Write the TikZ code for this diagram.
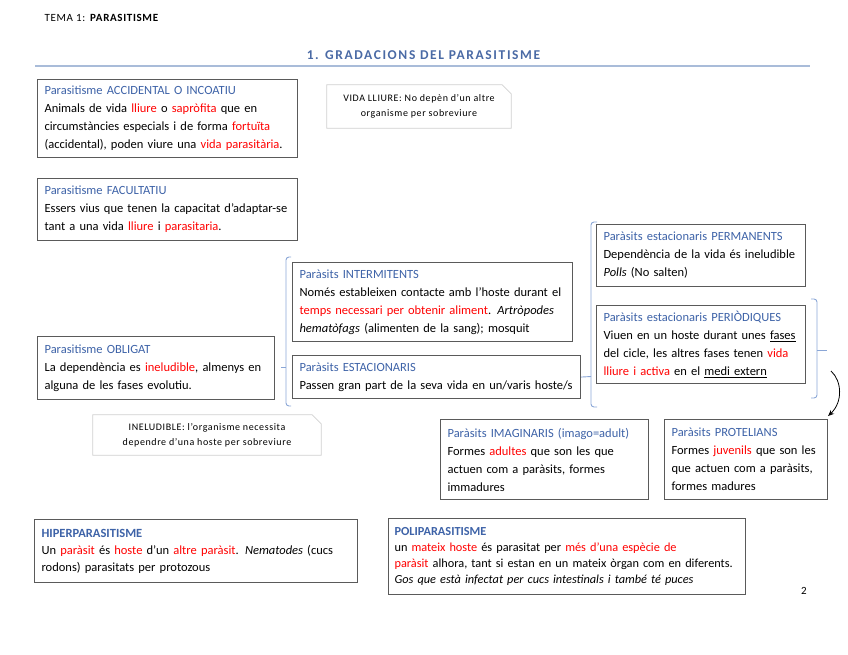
\documentclass[tikz,border=0pt]{standalone}
\usepackage{fontspec}
\setmainfont{Carlito}
\newfontfamily\spacedfont[LetterSpace=6]{Carlito}
\newfontfamily\headfont[LetterSpace=12]{Carlito}
\usepackage{xcolor}
\definecolor{titleblue}{HTML}{3E63A8}
\definecolor{headblue}{HTML}{4A6AA5}
\definecolor{rulegray}{HTML}{A9BCD9}
\definecolor{boxgray}{HTML}{5A5A5A}
\definecolor{calloutgray}{HTML}{D0D0D0}
\definecolor{bracketblue}{HTML}{8AA6D6}
\definecolor{red1}{HTML}{FF0000}
\usepackage{tikz}
\usetikzlibrary{arrows.meta, positioning, calc}

\newcommand{\rd}[1]{\textcolor{red1}{#1}}
\newcommand{\bt}[1]{\textcolor{titleblue}{#1}}
\newcommand{\foldframe}[1]{%
  \draw[fold] (#1.south west) -- (#1.north west) -- ([xshift=-9pt]#1.north east)
              -- ([yshift=-9pt]#1.north east) -- (#1.south east) -- cycle;}

\begin{document}
\begin{tikzpicture}[
  x=1pt, y=-1pt,
  box/.style     = {draw=boxgray, line width=1.1pt, fill=white, anchor=north west,
                    align=left, inner xsep=7pt, inner ysep=0pt,
                    font=\fontsize{12.5}{18}\selectfont},
  callout/.style = {align=center, inner sep=0pt,
                    font=\spacedfont\fontsize{10}{15}\selectfont},
  fold/.style    = {draw=calloutgray, line width=0.8pt},
  brk/.style     = {draw=bracketblue, line width=0.9pt, rounded corners=3pt},
  arr/.style     = {-{Stealth[length=6pt, width=5pt]}, line width=0.8pt}
]
\useasboundingbox (0,0) rectangle (848,654);

% ── HEADER ──────────────────────────────────────────────
\node[anchor=west, font=\spacedfont\fontsize{11}{13}\selectfont] (tema) at (41,18)
     {TEMA 1: \textbf{PARASITISME}};
\node[font=\headfont\bfseries\fontsize{13.5}{15}\selectfont, text=headblue] (titol) at (423.5,55)
     {1. GRADACIONS DEL PARASITISME};
\draw[rulegray, line width=1.5pt] (35,66) -- (810,66);

% ── LEFT COLUMN ─────────────────────────────────────────
\node[box, text width=246pt, minimum height=78pt] (acc) at (37,79)
     {\bt{Parasitisme ACCIDENTAL O INCOATIU}\\
      Animals de vida \rd{lliure} o \rd{sapròfita} que en\\
      circumstàncies especials i de forma \rd{fortuïta}\\
      (accidental), poden viure una \rd{vida parasitària}.};
\node[box, text width=246pt, minimum height=62pt] (fac) at (37,178)
     {\bt{Parasitisme FACULTATIU}\\
      Essers vius que tenen la capacitat d’adaptar-se\\
      tant a una vida \rd{lliure} i \rd{parasitaria}.};
\node[box, text width=223pt, minimum height=63pt] (obl) at (37,336)
     {\bt{Parasitisme OBLIGAT}\\
      La dependència es \rd{ineludible}, almenys en\\
      alguna de les fases evolutiu.};

% ── CALLOUTS ────────────────────────────────────────────
\node[callout, minimum width=184pt, minimum height=43pt] (vidalliure) at (419,106.5)
     {VIDA LLIURE: No depèn d’un altre\\ organisme per sobreviure};
\foldframe{vidalliure}
\node[callout, minimum width=228pt, minimum height=40pt] (inel) at (207,435)
     {INELUDIBLE: l’organisme necessita\\ dependre d’una hoste per sobreviure};
\foldframe{inel}

% ── INTERMITENTS / ESTACIONARIS ─────────────────────────
\node[box, text width=266pt, minimum height=79pt] (int) at (292,262)
     {\bt{Paràsits INTERMITENTS}\\
      Només estableixen contacte amb l’hoste durant el\\
      \rd{temps necessari per obtenir aliment}. \textit{Artròpodes}\\
      \textit{hematòfags} (alimenten de la sang); mosquit};
\node[box, text width=274pt, minimum height=43pt] (est) at (292,355)
     {\bt{Paràsits ESTACIONARIS}\\
      Passen gran part de la seva vida en un/varis hoste/s};

% ── PERMANENTS / PERIÒDIQUES ────────────────────────────
\node[box, text width=195pt, minimum height=62pt] (perm) at (596,224)
     {\bt{Paràsits estacionaris PERMANENTS}\\
      Dependència de la vida és ineludible\\
      \textit{Polls} (No salten)};
\node[box, text width=195pt, minimum height=78pt] (per) at (596,305)
     {\bt{Paràsits estacionaris PERIÒDIQUES}\\
      Viuen en un hoste durant unes \underline{fases}\\
      del cicle, les altres fases tenen \rd{vida}\\
      \rd{lliure i activa} en el \underline{medi extern}};

% ── IMAGINARIS / PROTELIANS ─────────────────────────────
\node[box, text width=194pt, minimum height=80pt] (ima) at (440,419)
     {\bt{Paràsits IMAGINARIS (imago=adult)}\\
      Formes \rd{adultes} que son les que\\
      actuen com a paràsits, formes\\
      immadures};
\node[box, text width=149pt, minimum height=80pt] (prot) at (664,419)
     {\bt{Paràsits PROTELIANS}\\
      Formes \rd{juvenils} que son les\\
      que actuen com a paràsits,\\
      formes madures};

% ── HIPER / POLI ────────────────────────────────────────
\node[box, text width=309pt, minimum height=63pt, font=\fontsize{12.5}{17}\selectfont] (hip) at (34,519)
     {\bt{\textbf{HIPERPARASITISME}}\\
      Un \rd{paràsit} és \rd{hoste} d’un \rd{altre paràsit}. \textit{Nematodes} (cucs\\
      rodons) parasitats per protozous};
\node[box, text width=345pt, minimum height=76pt, inner xsep=6pt, font=\fontsize{12.3}{16}\selectfont] (pol) at (388,518)
     {\bt{\textbf{POLIPARASITISME}}\\
      un \rd{mateix hoste} és parasitat per \rd{més d'una espècie de}\\
      \rd{paràsit} alhora, tant si estan en un mateix òrgan com en diferents.\\
      \textit{Gos que està infectat per cucs intestinals  i també té puces}};

\node[font=\fontsize{11}{13}\selectfont] (pagina) at (804,591) {2};

% ── BRACKETS ────────────────────────────────────────────
\coordinate (smallbrk) at (286,367.5);
\coordinate (bigbrk)   at (591,376.5);
\coordinate (perbrk)   at (817,350);
\draw[brk] (291,257) -- (286,257) -- (286,406) -- (291,406);
\draw[brk] (smallbrk) -- ++(-5,0);
\draw[brk] (597,222) -- (591,222) -- (591,407) -- (597,407);
\draw[brk] (est.east) -- (bigbrk);
\draw[brk] (811,299) -- (817,299) -- (817,398) -- (811,398);
\draw[brk] (perbrk) -- ++(10,0);

% ── ARROW ───────────────────────────────────────────────
\coordinate (arrstart) at (831,371);
\draw[arr] (arrstart) .. controls (842,381) and (843,402) .. ([yshift=3pt]prot.north east);

\end{tikzpicture}
\end{document}
